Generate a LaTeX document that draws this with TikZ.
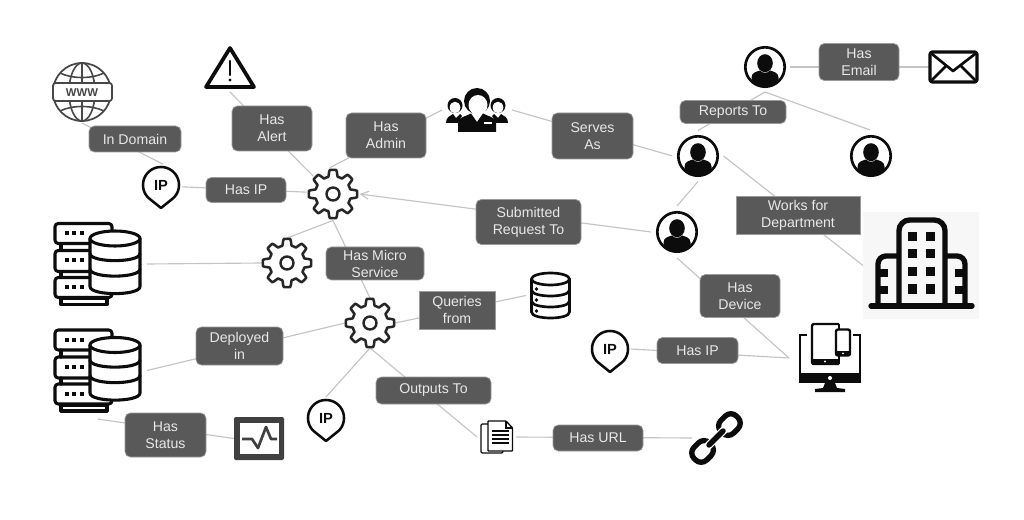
\documentclass[tikz,border=0pt]{standalone}
\usepackage{fontspec}
\setmainfont{Liberation Sans}
\usetikzlibrary{arrows.meta,backgrounds}
\definecolor{boxgray}{HTML}{595959}
\definecolor{linegray}{HTML}{C4C4C4}
\definecolor{textlight}{HTML}{E8E8E8}
\definecolor{icondark}{HTML}{0C0C0C}
\tikzset{
  x=0.75pt,y=-0.75pt,
  lab/.style 2 args={fill=boxgray,draw=boxgray!60,line width=0.5pt,text=textlight,align=center,
    rounded corners=4pt,inner sep=0pt,outer sep=0pt,minimum width={#1*0.75pt},minimum height={#2*0.75pt},
    font=\fontsize{10.6}{12.8}\selectfont},
  sqlab/.style 2 args={lab={#1}{#2},sharp corners},
  disc/.style={circle,inner sep=0pt,outer sep=0pt,minimum size={#1*0.75pt}},
  blockn/.style 2 args={rectangle,inner sep=0pt,outer sep=0pt,minimum width={#1*0.75pt},minimum height={#2*0.75pt}},
  conn/.style={draw=linegray,line width=0.85pt},
  ink/.style={draw=icondark,line width=#1,line join=round,line cap=round},
  ink/.default=2pt,
  pics/gearicon/.style={code={
    \draw[draw=black!85,line width=1.9pt,line join=round] plot[domain=0:360,samples=193]
       (\x:{21+3.2*max(-1,min(1,2.2*cos(8*\x)))}) -- cycle;
    \draw[draw=black!85,line width=1.8pt] (0,0) circle (6.5);
  }},
  pics/personicon/.style={code={
    \draw[icondark,line width=2pt] (0,0) circle (19.7);
    \fill[icondark] (0,-3.8) ellipse (7.8 and 9);
    \fill[icondark] (-13.5,15) -- (-13.5,10.5) .. controls (-13.5,5.5) and (-8,4.5) .. (-5,3.5)
      .. controls (-3,6.5) and (3,6.5) .. (5,3.5) .. controls (8,4.5) and (13.5,5.5) .. (13.5,10.5)
      -- (13.5,15) .. controls (8,20.5) and (-8,20.5) .. cycle;
  }},
  pics/pinicon/.style={code={
    \draw[icondark,line width=1.9pt,line join=round] plot[domain=135:405,samples=55] ({18*cos(\x)},{18*sin(\x)}) -- (0,23) -- cycle;
  }},
  pics/serverdbicon/.style={code={
    \foreach \yy/\hh in {0/20,27/21,54/20}{
      \draw[ink=2.3pt,rounded corners=2.4pt] (0,\yy) rectangle (57,\yy+\hh);
      \foreach \xx in {12,19,27}{\fill[icondark] (\xx-1.7,\yy+8) rectangle (\xx+1.7,\yy+12);}
    }
    \draw[ink=2.3pt] (6,20) -- (6,27) (52,20) -- (52,27) (6,48) -- (6,54) (52,48) -- (52,54);
    \draw[ink=2.3pt] (6,75) rectangle (52,81);
    \draw[ink=2.3pt,fill=white] (35,15) -- (35,63) .. controls (35,72.5) and (85,72.5) .. (85,63) -- (85,15) -- cycle;
    \draw[ink=2.3pt,fill=white] (60,15) ellipse (25 and 7.5);
    \draw[ink=2.3pt] (35,30) .. controls (35,39.5) and (85,39.5) .. (85,30);
    \draw[ink=2.3pt] (35,45.5) .. controls (35,55) and (85,55) .. (85,45.5);
  }},
  pics/dbstackicon/.style={code={
    \draw[ink=2pt,fill=white] (-19,-16) -- (-19,17) .. controls (-19,25) and (19,25) .. (19,17) -- (19,-16) -- cycle;
    \draw[ink=2pt,fill=white] (0,-16) ellipse (19 and 6);
    \draw[ink=2pt] (-19,-5) .. controls (-19,3) and (19,3) .. (19,-5);
    \draw[ink=2pt] (-19,6) .. controls (-19,14) and (19,14) .. (19,6);
    \foreach \yy in {-6,5,16}{\fill[icondark] (-14,\yy) circle (1.8);}
  }},
}
\begin{document}
\begin{tikzpicture}
\useasboundingbox (0,0) rectangle (1024,520);
\node[blockn={116}{107},fill=black!3] (bldg) at (921,265.5) {};
% globe
\begin{scope}[shift={(82,92)}]
  \draw[draw=black!72,line width=1.3pt] (0,0) circle (29);
  \draw[draw=black!72,line width=1.2pt] (0,0) ellipse (13 and 29) (0,-29) -- (0,29);
  \draw[draw=black!72,line width=1.2pt] (-22,-19) .. controls (-10,-13) and (10,-13) .. (22,-19);
  \draw[draw=black!72,line width=1.2pt] (-22,19) .. controls (-10,13) and (10,13) .. (22,19);
  \draw[draw=black!72,line width=1.3pt,fill=white,rounded corners=2pt] (-29,-9) rectangle (30,9);
\end{scope}
\node[disc=60,text=black!72,font=\fontsize{8.5}{10}\bfseries\selectfont] (www) at (82,93) {WWW};
% alert
\draw[ink=2.8pt] (230,48) -- (254,87) -- (206,87) -- cycle;
\draw[ink=1.8pt] (230,61) -- (230,75);
\fill[icondark] (230,80) circle (1.7);
\node[disc=44] (alert) at (230,70) {};
% gears
\pic at (333,194) {gearicon};
\pic at (287,263) {gearicon};
\pic at (370,323) {gearicon};
\node[disc=53] (g1) at (333,194) {};
\node[disc=50] (g2) at (287,263) {};
\node[disc=50] (g3) at (370,323) {};
% IP pins
\pic at (161,185) {pinicon};
\pic at (326,418) {pinicon};
\pic at (610,349) {pinicon};
\node[disc=42,font=\fontsize{11}{12}\bfseries\selectfont,text=icondark] (ip1) at (161,185) {IP};
\node[disc=42,font=\fontsize{11}{12}\bfseries\selectfont,text=icondark] (ip2) at (326,418) {IP};
\node[disc=42,font=\fontsize{11}{12}\bfseries\selectfont,text=icondark] (ip3) at (610,349) {IP};
% people
\begin{scope}[shift={(477,110)}]
  \fill[icondark] (0,-9) circle (13);
  \fill[white] (1,-5) ellipse (9.5 and 10);
  \fill[icondark] (-19,22) -- (-19,13) .. controls (-19,7) and (-10,6) .. (-6,3.5) -- (0,12) -- (6,3.5) .. controls (10,6) and (19,7) .. (19,13) -- (19,22) -- cycle;
  \fill[white] (7,12) rectangle (15,14);
  \foreach \sx in {-22,21}{
    \fill[icondark] (\sx,-4.5) circle (7.5);
    \fill[white] (\sx,-2.5) ellipse (5.3 and 5.8);
  }
  \fill[icondark] (-31,13) .. controls (-31,7) and (-27,6) .. (-24,4) -- (-21,8) -- (-17,4) -- (-15,6) -- (-19,13) -- cycle;
  \fill[icondark] (31,13) .. controls (31,7) and (27,6) .. (24,4) -- (21,8) -- (17,4) -- (15,6) -- (19,13) -- cycle;
\end{scope}
\node[disc=70] (people) at (477,110) {};
% persons
\pic at (765,67) {personicon};
\pic at (698,156) {personicon};
\pic at (871,156) {personicon};
\pic at (677,232) {personicon};
\node[disc=50] (p1) at (765,67) {};
\node[disc=51] (p2) at (698,156) {};
\node[disc=52] (p4) at (871,156) {};
\node[disc=52] (p3) at (677,232) {};
% envelope
\draw[ink=2.6pt,rounded corners=2pt] (930,52) rectangle (977,82);
\draw[ink=2pt] (932,54) -- (953,71) -- (975,54);
\draw[ink=2pt] (932,80) -- (946,66);
\draw[ink=2pt] (975,80) -- (961,66);
\node[blockn={49}{32}] (env) at (953.5,67) {};
% building
\draw[icondark,line width=4pt,rounded corners=8pt] (899,306) -- (899,220) -- (945,220) -- (945,306);
\draw[icondark,line width=4pt,rounded corners=6pt] (878,306) -- (878,256) -- (899,256);
\draw[icondark,line width=4pt,rounded corners=6pt] (965,306) -- (965,256) -- (945,256);
\foreach \yy in {269,286}{
  \fill[icondark] (878,\yy) rectangle (888,\yy+8);
  \fill[icondark] (955,\yy) rectangle (965,\yy+8);
}
\foreach \xx in {912,930}{\foreach \yy in {237,254,272,289}{
  \fill[icondark] (\xx-4.5,\yy-4.5) rectangle (\xx+4.5,\yy+4.5);}}
\draw[icondark,line width=4pt,line cap=round] (871,306) -- (972,306);
% devices
\fill[icondark] (799,373) rectangle (861,383);
\draw[icondark,line width=2pt] (807,335) -- (800,335) -- (800,375);
\draw[icondark,line width=2pt] (853,335) -- (860,335) -- (860,375);
\fill[white] (830,378) circle (2);
\fill[icondark] (825,383) -- (835,383) -- (837,388) -- (845,389) -- (845,392) -- (815,392) -- (815,389) -- (823,388) -- cycle;
\draw[icondark,line width=1.8pt,rounded corners=1.5pt] (839,324) -- (812,324) -- (812,364) -- (839,364);
\fill[icondark] (812,359) rectangle (839,364.5);
\fill[white] (825,361.5) circle (1.2);
\draw[icondark,line width=1.8pt] (839,324) -- (839,329);
\draw[icondark,line width=1.8pt] (839,356) -- (839,364);
\draw[icondark,line width=1.8pt,fill=white,rounded corners=1.5pt] (836,329.5) rectangle (850,355.5);
\fill[icondark] (836,351) rectangle (850,355.5);
\fill[white] (843,353.3) circle (1);
\node[blockn={82}{70}] (dev) at (830,358) {};
% server + database icons
\pic at (55,223.5) {serverdbicon};
\pic at (55,330) {serverdbicon};
\node[blockn={99}{82}] (srv1) at (97.5,264) {};
\node[blockn={99}{97}] (srv2) at (97.5,370.5) {};
% database stack
\pic at (550.5,295) {dbstackicon};
\node[blockn={49}{50}] (dbs) at (550.5,295.5) {};
% status monitor
\fill[black!75,rounded corners=1.5pt] (234,417) rectangle (284,460);
\fill[white] (240,423) rectangle (279,454);
\draw[draw=black!75,line width=2pt,line join=round] (242,439) -- (252,439) -- (258,448) -- (266,427) -- (271,439) -- (277,439);
\node[blockn={50}{43}] (mon) at (259,438.5) {};
% document
\draw[icondark,line width=0.9pt,rounded corners=1pt] (488,424) -- (481,424) -- (481,453) -- (503,453) -- (503,451);
\draw[icondark,line width=1pt,fill=white,rounded corners=0.5pt] (488,421) -- (506,421) -- (512.5,428) -- (512.5,451) -- (488,451) -- cycle;
\draw[icondark,line width=0.8pt] (506,421) -- (506,428) -- (512.5,428);
\foreach \yy in {431,435,439,443}{\draw[icondark,line width=0.9pt] (492,\yy) -- (509,\yy);}
\node[blockn={39}{34}] (doc) at (496.5,437) {};
% link
\begin{scope}[shift={(716,438)},rotate=45]
  \draw[icondark,line width=4pt,rounded corners=6pt] (-8,-9) rectangle (-30,9);
  \draw[white,line width=6pt] (-8,-4) -- (-8,4);
  \draw[icondark,line width=4pt,rounded corners=6pt] (8,-9) rectangle (30,9);
  \draw[white,line width=6pt] (8,-4) -- (8,4);
  \draw[icondark,line width=4pt,line cap=round] (-10,0) -- (10,0);
\end{scope}
\node[blockn={48}{48}] (link) at (716,438) {};
% labels
\node[lab={92}{26}] (lDomain) at (135,139) {In Domain};
\node[lab={80}{45}] (lAlert) at (272,128.5) {Has\\Alert};
\node[lab={80}{45}] (lAdmin) at (386,135.5) {Has\\Admin};
\node[lab={80}{25}] (lIpA) at (246,190) {Has IP};
\node[lab={81}{46}] (lServes) at (592.5,136) {Serves\\As};
\node[lab={105}{45}] (lSubmit) at (528.5,222) {Submitted\\Request To};
\node[lab={80}{37}] (lEmail) at (859,62) {Has\\Email};
\node[lab={106}{23}] (lReports) at (733,112) {Reports To};
\node[sqlab={124}{38}] (lWorks) at (798,215) {Works for\\Department};
\node[lab={80}{43}] (lDevice) at (740,296) {Has\\Device};
\node[lab={81}{26}] (lIpB) at (697.5,350.5) {Has IP};
\node[lab={90}{26}] (lUrl) at (598,438) {Has URL};
\node[lab={115}{27}] (lOut) at (433.5,390.5) {Outputs To};
\node[lab={98}{33}] (lMicro) at (375,263.5) {Has Micro\\Service};
\node[sqlab={76}{38}] (lQuery) at (457,310) {Queries\\from};
\node[lab={87}{38}] (lDeploy) at (239.5,346) {Deployed\\in};
\node[lab={81}{44}] (lStatus) at (165.5,435) {Has\\Status};
% connectors
\begin{scope}[on background layer]
\fill[white] (0,0) rectangle (1024,520);
\draw[conn] (www.270) -- (ip1.85);
\draw[conn] (ip1.-5) -- (g1.176);
\draw[conn] (alert.270) -- (g1.138);
\draw[conn] (people.180) -- (g1.97);
\draw[conn] (people.0) -- (p2.180);
\draw[conn] (p1.0) -- (env.west);
\draw[conn] (p1.270) -- (p2.90);
\draw[conn] (p1.270) -- (p4.92);
\draw[conn] (p2.0) -- (bldg.west);
\draw[conn] (p2.270) -- (p3.90);
\draw[conn,-{Straight Barb[length=6pt,width=6pt]}] (p3.180) -- (g1.0);
\draw[conn] (p3.270) -- (dev.west);
\draw[conn] (ip3.0) -- (dev.west);
\draw[conn] (g1.270) -- (g2.90);
\draw[conn] (g1.270) -- (g3.90);
\draw[conn] (g2.180) -- (srv1.east);
\draw[conn] (g3.180) -- (srv2.east);
\draw[conn] (g3.0) -- (dbs.west);
\draw[conn] (g3.270) -- (ip2.90);
\draw[conn] (g3.270) -- (doc.west);
\draw[conn] (doc.east) -- (link.west);
\draw[conn] (srv2.south) -- (mon.west);
\end{scope}
\end{tikzpicture}
\end{document}
